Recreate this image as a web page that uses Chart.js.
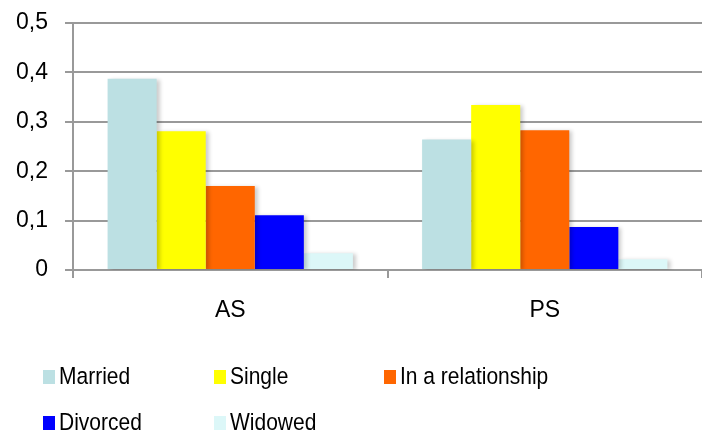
<!DOCTYPE html>
<html>
<head>
<meta charset="utf-8">
<script src="https://cdn.jsdelivr.net/npm/chart.js@4/dist/chart.umd.min.js"></script>
<style>
  html, body { margin: 0; padding: 0; background: #fff; }
  #wrap { width: 702px; height: 435px; position: relative; }
</style>
</head>
<body>
<div id="wrap"><canvas id="c" width="702" height="435"></canvas></div>
<script>
// Groups and marital-status shares
const categories = ['AS', 'PS'];
const seriesNames = ['Married', 'Single', 'In a relationship', 'Divorced', 'Widowed'];
const married      = [0.387, 0.264];
const single       = [0.281, 0.334];
const relationship = [0.170, 0.283];
const divorced     = [0.111, 0.087];
const widowed      = [0.034, 0.022];
const yTicks = [0, 0.1, 0.2, 0.3, 0.4, 0.5];

const colors = ['#bce0e3', '#ffff00', '#ff6600', '#0000ff', '#dcf7f8'];
const seriesValues = [married, single, relationship, divorced, widowed];

const FONT = '"Liberation Sans", Arial, sans-serif';

// soft drop shadow behind the bars
const barShadow = {
  id: 'barShadow',
  beforeDatasetsDraw(chart) {
    const ctx = chart.ctx;
    ctx.save();
    ctx.shadowColor = 'rgba(0,0,0,0.2)';
    ctx.shadowBlur = 4;
    ctx.shadowOffsetX = 3;
    ctx.shadowOffsetY = 1;
  },
  afterDatasetsDraw(chart) {
    chart.ctx.restore();
  }
};

// two-row legend laid out in fixed columns (text slightly tall)
const gridLegend = {
  id: 'gridLegend',
  afterDraw(chart) {
    const ctx = chart.ctx;
    const colX = [43, 214, 384];
    const rowY = [377, 423];
    const stretch = 1.18;
    ctx.save();
    ctx.font = '21px ' + FONT;
    ctx.textBaseline = 'middle';
    chart.data.datasets.forEach((ds, i) => {
      const x = colX[i % 3];
      const y = rowY[Math.floor(i / 3)];
      ctx.fillStyle = ds.backgroundColor;
      ctx.fillRect(x, y - 7, 12, 14);
      ctx.save();
      ctx.translate(x + 16, y);
      ctx.scale(1, stretch);
      ctx.fillStyle = '#000';
      ctx.fillText(ds.label, 0, 0);
      ctx.restore();
    });
    ctx.restore();
  }
};

new Chart(document.getElementById('c'), {
  type: 'bar',
  data: {
    labels: categories,
    datasets: seriesNames.map((name, i) => ({
      label: name,
      data: seriesValues[i],
      backgroundColor: colors[i],
      borderWidth: 0,
      categoryPercentage: 0.78,
      barPercentage: 1.0
    }))
  },
  options: {
    responsive: false,
    animation: false,
    devicePixelRatio: 1,
    layout: { padding: { top: 23, right: 0, left: 0, bottom: 105 } },
    plugins: {
      legend: { display: false },
      tooltip: { enabled: false }
    },
    scales: {
      x: {
        offset: true,
        grid: {
          offset: true,
          drawOnChartArea: false,
          drawTicks: true,
          tickLength: 8,
          color: '#999',
          lineWidth: 2
        },
        border: { display: true, color: '#999', width: 2 },
        ticks: {
          color: '#000',
          font: { family: FONT, size: 23 },
          padding: 19
        },
        afterFit(s) { s.height = 60; }
      },
      y: {
        min: 0,
        max: 0.5,
        afterBuildTicks(s) { s.ticks = yTicks.map(v => ({ value: v })); },
        grid: {
          color: '#999',
          lineWidth: 2,
          tickLength: 8
        },
        border: { display: true, color: '#999', width: 2 },
        ticks: {
          color: '#000',
          font: { family: FONT, size: 23 },
          padding: 17,
          callback: v => String(Math.round(v * 10) / 10).replace('.', ',')
        },
        afterFit(s) {
          s.width = 73;
          s.paddingTop = 0;
          s.paddingBottom = 0;
        }
      }
    }
  },
  plugins: [barShadow, gridLegend]
});
</script>
</body>
</html>
